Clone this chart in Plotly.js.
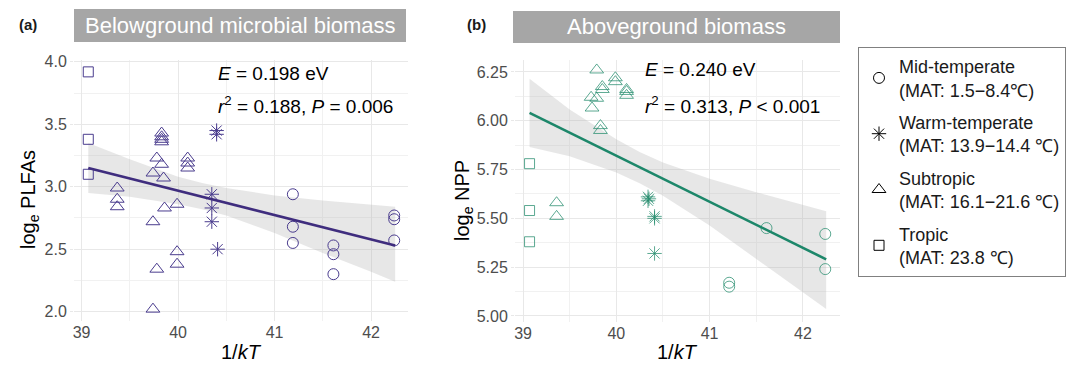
<!DOCTYPE html>
<html>
<head>
<meta charset="utf-8">
<script src="https://cdn.plot.ly/plotly-3.0.1.min.js"></script>
<style>html,body{margin:0;padding:0;background:#fff;}#chart{width:1080px;height:366px;}</style>
</head>
<body>
<div id="chart"></div>
<script>
// ---------- Data ----------
// Panel (a): log_e PLFAs vs 1/kT
const aMidX  = [41.19, 41.19, 41.19, 41.61, 41.61, 41.61, 42.24, 42.24, 42.24];
const aMidY  = [2.94, 2.68, 2.55, 2.53, 2.46, 2.30, 2.77, 2.74, 2.57];
const aWarmX = [40.35, 40.35, 40.35, 40.40, 40.40, 40.41];
const aWarmY = [2.94, 2.83, 2.72, 3.45, 3.42, 2.50];
const aSubX  = [39.37, 39.37, 39.37, 39.74, 39.74, 39.74, 39.78, 39.78, 39.83, 39.83, 39.83, 39.83, 39.83, 39.86, 39.85, 39.99, 39.99, 39.99, 40.10, 40.10, 40.10];
const aSubY  = [2.99, 2.90, 2.84, 2.02, 2.72, 3.11, 3.23, 2.34, 3.43, 3.40, 3.38, 3.36, 3.18, 2.83, 3.07, 2.86, 2.48, 2.38, 3.23, 3.19, 3.15];
const aTroX  = [39.07, 39.07, 39.07];
const aTroY  = [3.92, 3.38, 3.10];
const aFitX  = [39.07, 42.25];
const aFitY  = [3.15, 2.53];

// Panel (b): log_e NPP vs 1/kT
const bMidX  = [41.21, 41.21, 41.61, 42.24, 42.24];
const bMidY  = [5.17, 5.15, 5.45, 5.42, 5.24];
const bWarmX = [40.34, 40.34, 40.35, 40.41, 40.41, 40.41];
const bWarmY = [5.61, 5.59, 5.60, 5.51, 5.50, 5.32];
const bSubX  = [39.36, 39.36, 39.79, 39.99, 39.99, 39.85, 39.85, 40.11, 40.11, 40.11, 39.73, 39.79, 39.74, 39.83, 39.83];
const bSubY  = [5.58, 5.51, 6.26, 6.22, 6.20, 6.175, 6.16, 6.16, 6.15, 6.13, 6.12, 6.115, 6.065, 5.975, 5.95];
const bTroX  = [39.07, 39.07, 39.07];
const bTroY  = [5.78, 5.54, 5.38];
const bFitX  = [39.07, 42.25];
const bFitY  = [6.04, 5.29];

// Confidence bands (read at these x positions)
const bandX  = [39.07, 39.5, 40.0, 40.25, 40.5, 41.0, 41.5, 42.0, 42.25];
const aUpper = [3.35, 3.22, 3.08, 3.03, 2.99, 2.93, 2.89, 2.86, 2.84];
const aLower = [2.95, 2.92, 2.86, 2.82, 2.77, 2.63, 2.47, 2.32, 2.24];
const bUpper = [6.215, 6.058, 5.905, 5.84, 5.786, 5.703, 5.634, 5.571, 5.536];
const bLower = [5.865, 5.818, 5.735, 5.68, 5.616, 5.463, 5.294, 5.121, 5.036];

// Labels
const panelTitles = ['Belowground microbial biomass', 'Aboveground biomass'];
const panelTags = ['(a)', '(b)'];
const statsA = ['<i>E</i> = 0.198 eV', '<i>r</i><sup>2</sup> = 0.188, <i>P</i> = 0.006'];
const statsB = ['<i>E</i> = 0.240 eV', '<i>r</i><sup>2</sup> = 0.313, <i>P</i> < 0.001'];
const groupNames = ['Mid-temperate<br>(MAT: 1.5−8.4℃)', 'Warm-temperate<br>(MAT: 13.9−14.4 ℃)', 'Subtropic<br>(MAT: 16.1−21.6 ℃)', 'Tropic<br>(MAT: 23.8 ℃)'];
const symbols = ['circle-open', 'asterisk-open', 'triangle-up-open', 'square-open'];
const symSizes = [11, 12, 12, 10];

// ---------- Styling ----------
const FONT = 'Liberation Sans, Arial, sans-serif';
const colA = '#4a3c8e', lineA = '#3f2d7e';
const colB = 'rgba(38,140,110,0.75)', lineB = '#1d876a';
const bandFill = 'rgba(175,175,175,0.3)';

const traces = [];
function addPanel(xa, ya, groupsX, groupsY, col, fitX, fitY, up, lo, lcol) {
  traces.push({
    x: bandX.concat(bandX.slice().reverse()),
    y: up.concat(lo.slice().reverse()),
    xaxis: xa, yaxis: ya, type: 'scatter', mode: 'lines',
    fill: 'toself', fillcolor: bandFill, line: {width: 0},
    hoverinfo: 'skip', showlegend: false
  });
  for (let i = 0; i < 4; i++) {
    traces.push({
      x: groupsX[i], y: groupsY[i], xaxis: xa, yaxis: ya,
      type: 'scatter', mode: 'markers', showlegend: false,
      marker: {symbol: symbols[i], size: symSizes[i], color: col, line: {color: col, width: 1}}
    });
  }
  traces.push({
    x: fitX, y: fitY, xaxis: xa, yaxis: ya, type: 'scatter', mode: 'lines',
    line: {color: lcol, width: 2.6}, showlegend: false
  });
}
addPanel('x', 'y', [aMidX, aWarmX, aSubX, aTroX], [aMidY, aWarmY, aSubY, aTroY], colA, aFitX, aFitY, aUpper, aLower, lineA);
addPanel('x2', 'y2', [bMidX, bWarmX, bSubX, bTroX], [bMidY, bWarmY, bSubY, bTroY], colB, bFitX, bFitY, bUpper, bLower, lineB);

// Legend entries (black open symbols)
for (let i = 0; i < 4; i++) {
  traces.push({
    x: [null], y: [null], xaxis: 'x', yaxis: 'y', type: 'scatter', mode: 'markers',
    name: groupNames[i], legendgroup: 'g' + i, showlegend: true,
    marker: {symbol: symbols[i], size: symSizes[i], color: '#000', line: {color: '#000', width: 1}}
  });
}

const W = 1080, H = 366;
const px = v => v / W, py = v => 1 - v / H;

function xAxis(domain, range) {
  return {
    domain: domain, range: range, dtick: 1, tick0: 39,
    showgrid: true, gridcolor: '#e8e8e8', gridwidth: 1, zeroline: false, showline: false,
    ticks: '',
    tickfont: {family: FONT, size: 16, color: '#4d4d4d'},
    minor: {dtick: 0.5, tick0: 39, showgrid: true, gridcolor: '#f1f1f1', gridwidth: 1},
    fixedrange: true
  };
}
function yAxis(domain, range, dtick, fmt, anchor) {
  return {
    domain: domain, range: range, dtick: dtick, tick0: 0, tickformat: fmt, anchor: anchor,
    showgrid: true, gridcolor: '#e8e8e8', gridwidth: 1, zeroline: false, showline: false,
    ticks: 'outside', ticklen: 3, tickcolor: '#e8e8e8',
    tickfont: {family: FONT, size: 16, color: '#4d4d4d'},
    minor: {dtick: dtick / 2, tick0: 0, showgrid: true, gridcolor: '#f1f1f1', gridwidth: 1},
    fixedrange: true
  };
}

const ann = [];
const shapes = [];
// strip titles
const strips = [[74, 406, 9, 42], [513, 840, 11, 43]];
strips.forEach((s, i) => {
  shapes.push({type: 'rect', xref: 'paper', yref: 'paper', x0: px(s[0]), x1: px(s[1]), y0: py(s[3]), y1: py(s[2]),
    fillcolor: '#a6a6a6', line: {width: 0}, layer: 'above'});
  ann.push({xref: 'paper', yref: 'paper', x: px((s[0] + s[1]) / 2), y: py((s[2] + s[3]) / 2),
    text: panelTitles[i], showarrow: false, xanchor: 'center', yanchor: 'middle',
    font: {family: FONT, size: 22, color: '#ffffff'}});
});
// panel tags
[[28, 25], [476, 25]].forEach((p, i) => {
  ann.push({xref: 'paper', yref: 'paper', x: px(p[0]), y: py(p[1]), text: '<b>' + panelTags[i] + '</b>',
    showarrow: false, xanchor: 'center', yanchor: 'middle', font: {family: FONT, size: 15, color: '#1a1a1a'}});
});
// statistics
const statFont = {family: FONT, size: 19, color: '#000'};
ann.push({xref: 'x', yref: 'y', x: 40.39, y: 3.91, text: statsA[0], showarrow: false, xanchor: 'left', yanchor: 'middle', font: statFont});
ann.push({xref: 'x', yref: 'y', x: 40.39, y: 3.655, text: statsA[1], showarrow: false, xanchor: 'left', yanchor: 'middle', font: statFont});
ann.push({xref: 'x2', yref: 'y2', x: 40.29, y: 6.26, text: statsB[0], showarrow: false, xanchor: 'left', yanchor: 'middle', font: statFont});
ann.push({xref: 'x2', yref: 'y2', x: 40.29, y: 6.08, text: statsB[1], showarrow: false, xanchor: 'left', yanchor: 'middle', font: statFont});
// axis titles
const titleFont = {family: FONT, size: 20, color: '#000'};
ann.push({xref: 'paper', yref: 'paper', x: px(241), y: py(352), text: '1/<i>kT</i>', showarrow: false, xanchor: 'center', yanchor: 'middle', font: titleFont});
ann.push({xref: 'paper', yref: 'paper', x: px(677), y: py(352), text: '1/<i>kT</i>', showarrow: false, xanchor: 'center', yanchor: 'middle', font: titleFont});
ann.push({xref: 'paper', yref: 'paper', x: px(29), y: py(200), text: 'log<sub>e</sub> PLFAs', textangle: -90, showarrow: false, xanchor: 'center', yanchor: 'middle', font: titleFont});
ann.push({xref: 'paper', yref: 'paper', x: px(463), y: py(201), text: 'log<sub>e</sub> NPP', textangle: -90, showarrow: false, xanchor: 'center', yanchor: 'middle', font: titleFont});

const layout = {
  width: W, height: H,
  margin: {l: 0, r: 0, t: 0, b: 0},
  paper_bgcolor: '#ffffff', plot_bgcolor: '#ffffff',
  font: {family: FONT},
  xaxis: xAxis([px(74), px(408)], [38.922, 42.383]),
  yaxis: yAxis([py(321), py(60)], [1.925, 4.015], 0.5, '.1f', 'x'),
  xaxis2: Object.assign(xAxis([px(515), px(840)], [38.914, 42.398]), {anchor: 'y2'}),
  yaxis2: yAxis([py(322), py(60)], [4.969, 6.311], 0.25, '.2f', 'x2'),
  showlegend: true,
  legend: {
    x: px(858), y: py(47), xanchor: 'left', yanchor: 'top',
    bordercolor: '#808080', borderwidth: 1, bgcolor: '#ffffff',
    font: {family: FONT, size: 18, color: '#1a1a1a'},
    tracegroupgap: 6, itemwidth: 30, traceorder: 'grouped'
  },
  annotations: ann,
  shapes: shapes
};

Plotly.newPlot('chart', traces, layout, {staticPlot: true, displayModeBar: false});
</script>
</body>
</html>
